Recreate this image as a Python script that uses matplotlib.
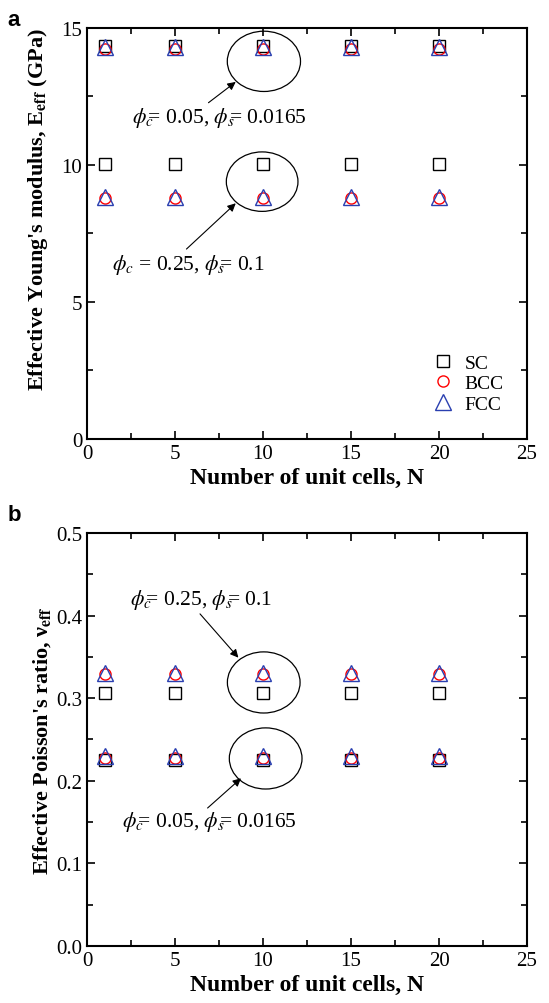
import matplotlib.pyplot as plt
from matplotlib.patches import Ellipse
from matplotlib.ticker import MultipleLocator

plt.rcParams['font.family'] = 'Liberation Serif'
plt.rcParams['mathtext.fontset'] = 'stix'

n_cells = [1, 5, 10, 15, 20]

# Young's modulus (GPa): two porosity sets
E_sc_lo = [14.35, 14.35, 14.35, 14.35, 14.35]
E_bcc_lo = [14.24, 14.24, 14.24, 14.24, 14.24]
E_fcc_lo = [14.30, 14.30, 14.30, 14.30, 14.30]
E_sc_hi = [10.03, 10.03, 10.03, 10.03, 10.03]
E_bcc_hi = [8.80, 8.80, 8.80, 8.80, 8.80]
E_fcc_hi = [8.83, 8.83, 8.83, 8.83, 8.83]

# Poisson's ratio
nu_sc_hi = [0.306, 0.306, 0.306, 0.306, 0.306]
nu_bcc_hi = [0.329, 0.329, 0.329, 0.329, 0.329]
nu_fcc_hi = [0.331, 0.331, 0.331, 0.331, 0.331]
nu_sc_lo = [0.225, 0.225, 0.225, 0.225, 0.225]
nu_bcc_lo = [0.228, 0.228, 0.228, 0.228, 0.228]
nu_fcc_lo = [0.230, 0.230, 0.230, 0.230, 0.230]

fig = plt.figure(figsize=(5.49, 10.04), dpi=100)
ax1 = fig.add_axes([0.1585, 0.5618, 0.8015, 0.4094])
ax2 = fig.add_axes([0.1585, 0.0568, 0.8015, 0.4114])

sq = dict(marker='s', ms=9, mfc='none', mec='black', mew=1.0, ls='none')
ci = dict(marker='o', ms=8, mfc='none', mec='red', mew=1.0, ls='none')
tr = dict(marker='^', ms=11, mfc='none', mec='#2a3fb0', mew=1.0, ls='none')
arrow = dict(arrowstyle='-|>', lw=0.8, color='black', mutation_scale=12, shrinkA=0, shrinkB=0)


def style(ax):
    ax.set_xlim(0, 25)
    ax.xaxis.set_major_locator(MultipleLocator(5))
    ax.xaxis.set_minor_locator(MultipleLocator(2.5))
    ax.tick_params(which='both', direction='in', top=True, right=True, labelsize=15, width=1.2)
    ax.tick_params(which='major', length=6)
    ax.tick_params(which='minor', length=4)
    for s in ax.spines.values():
        s.set_linewidth(1.5)
    ax.set_xlabel('Number of unit cells, N', fontsize=17, fontweight='bold', labelpad=3)


# panel a
ax1.plot(n_cells, E_sc_lo, label='SC', **sq)
ax1.plot(n_cells, E_bcc_lo, label='BCC', **ci)
ax1.plot(n_cells, E_fcc_lo, label='FCC', **tr)
ax1.plot(n_cells, E_sc_hi, **sq)
ax1.plot(n_cells, E_bcc_hi, **ci)
ax1.plot(n_cells, E_fcc_hi, **tr)
style(ax1)
ax1.set_ylim(0, 15)
ax1.yaxis.set_major_locator(MultipleLocator(5))
ax1.yaxis.set_minor_locator(MultipleLocator(2.5))
ax1.set_ylabel(r"Effective Young's modulus, E$_{\mathbf{eff}}$ (GPa)", fontsize=16, fontweight='bold')
ax1.yaxis.set_label_coords(-0.085, 0.56)
ax1.add_patch(Ellipse((10.05, 13.78), 4.16, 2.2, fill=False, lw=0.9, ec='black'))
ax1.add_patch(Ellipse((9.95, 9.39), 4.07, 2.17, fill=False, lw=0.9, ec='black'))
ax1.annotate('', xy=(8.45, 13.03), xytext=(6.9, 12.27), arrowprops=arrow)
ax1.annotate('', xy=(8.45, 8.6), xytext=(5.65, 6.93), arrowprops=arrow)
ax1.text(2.55, 11.75, r'$\phi_c\!\!$= 0.05, $\phi_s\!\!$= 0.0165', fontsize=15.5, va='center')
ax1.text(1.4, 6.37, r'$\phi_c$ = 0.25, $\phi_s\!\!$= 0.1', fontsize=15.5, va='center')
ax1.legend(loc='lower left', bbox_to_anchor=(0.765, 0.045), frameon=False, fontsize=14,
           handlelength=1.2, handletextpad=0.5, labelspacing=0.15, borderaxespad=0)

# panel b
ax2.plot(n_cells, nu_sc_hi, **sq)
ax2.plot(n_cells, nu_bcc_hi, **ci)
ax2.plot(n_cells, nu_fcc_hi, **tr)
ax2.plot(n_cells, nu_sc_lo, **sq)
ax2.plot(n_cells, nu_bcc_lo, **ci)
ax2.plot(n_cells, nu_fcc_lo, **tr)
style(ax2)
ax2.set_ylim(0, 0.5)
ax2.yaxis.set_major_locator(MultipleLocator(0.1))
ax2.yaxis.set_minor_locator(MultipleLocator(0.05))
ax2.yaxis.set_major_formatter(plt.FormatStrFormatter('%.1f'))
ax2.set_ylabel(r"Effective Poisson's ratio, ν$_{\mathbf{eff}}$", fontsize=16, fontweight='bold', labelpad=2)
ax2.add_patch(Ellipse((10.04, 0.319), 4.13, 0.074, fill=False, lw=0.9, ec='black'))
ax2.add_patch(Ellipse((10.15, 0.227), 4.13, 0.074, fill=False, lw=0.9, ec='black'))
ax2.annotate('', xy=(8.6, 0.349), xytext=(6.42, 0.402), arrowprops=arrow)
ax2.annotate('', xy=(8.75, 0.203), xytext=(6.85, 0.167), arrowprops=arrow)
ax2.text(2.45, 0.42, r'$\phi_c\!\!$= 0.25, $\phi_s\!\!$= 0.1', fontsize=15.5, va='center')
ax2.text(2.0, 0.151, r'$\phi_c\!\!$= 0.05, $\phi_s\!\!$= 0.0165', fontsize=15.5, va='center')

fig.text(0.013, 0.99, 'a', fontsize=16, fontweight='bold', family='Liberation Sans', va='top')
fig.text(0.013, 0.497, 'b', fontsize=16, fontweight='bold', family='Liberation Sans', va='top')

fig.savefig('out.png', dpi=100)
